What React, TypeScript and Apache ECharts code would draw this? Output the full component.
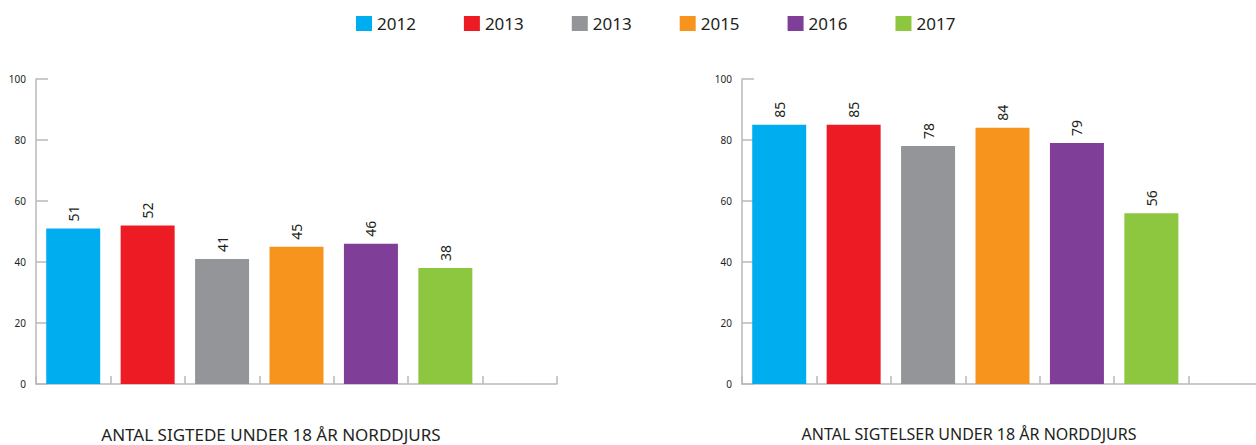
import React, { useEffect, useRef } from "react";
import * as echarts from "echarts";

const seriesKeys = ["s2012", "s2013a", "s2013b", "s2015", "s2016", "s2017"];
const legendLabels = ["2012", "2013", "2013", "2015", "2016", "2017"];
const colors = ["#00AEEF", "#ED1C24", "#939598", "#F7941D", "#7F3F98", "#8DC63F"];
const categories = ["2012", "2013", "2013", "2015", "2016", "2017", ""];
const leftValues = [51, 52, 41, 45, 46, 38];
const rightValues = [85, 85, 78, 84, 79, 56];
const leftTitle = "ANTAL SIGTEDE UNDER 18 ÅR NORDDJURS";
const rightTitle = "ANTAL SIGTELSER UNDER 18 ÅR NORDDJURS";
const yTicks = { min: 0, max: 100, interval: 20 };

const FONT = "'Noto Sans', sans-serif";
const AXIS_COLOR = "#b8b9bb";

export default function App() {
  const ref = useRef<HTMLDivElement>(null);
  useEffect(() => {
    if (!ref.current) return;
    const chart = echarts.init(ref.current, undefined, { renderer: "svg" });
    const labelMap: Record<string, string> = {};
    seriesKeys.forEach((k, i) => (labelMap[k] = legendLabels[i]));

    const makeX = (gridIndex: number) => ({
      type: "category" as const,
      gridIndex,
      data: categories,
      boundaryGap: true,
      axisLine: { lineStyle: { color: AXIS_COLOR, width: 1.5 } },
      axisTick: { show: true, inside: true, length: 8, lineStyle: { color: AXIS_COLOR, width: 1.5 } },
      axisLabel: { show: false },
      splitLine: { show: false },
    });
    const makeY = (gridIndex: number) => ({
      type: "value" as const,
      gridIndex,
      min: yTicks.min,
      max: yTicks.max,
      interval: yTicks.interval,
      axisLine: { show: true, lineStyle: { color: AXIS_COLOR, width: 1.5 } },
      axisTick: { show: true, inside: true, length: 12, lineStyle: { color: AXIS_COLOR, width: 1.5 } },
      axisLabel: { fontSize: 10, color: "#231f20", margin: 10, fontFamily: FONT },
      splitLine: { show: false },
    });

    const series: any[] = [];
    [leftValues, rightValues].forEach((vals, g) => {
      vals.forEach((v, i) => {
        const data = categories.map((_, j) => (j === i ? v : "-"));
        series.push({
          name: seriesKeys[i],
          type: "bar",
          xAxisIndex: g,
          yAxisIndex: g,
          data,
          barWidth: 54,
          barGap: "-100%",
          itemStyle: { color: colors[i] },
          label: {
            show: true,
            position: "top",
            rotate: 90,
            distance: 7,
            align: "left",
            verticalAlign: "middle",
            fontSize: 14,
            color: "#231f20",
            fontFamily: FONT,
          },
        });
      });
    });

    chart.setOption({
      animation: false,
      legend: {
        data: seriesKeys,
        left: 356,
        top: 15,
        padding: 0,
        icon: "rect",
        itemWidth: 16,
        itemHeight: 15,
        itemGap: 48,
        formatter: (name: string) => labelMap[name] ?? name,
        textStyle: { fontSize: 17, color: "#231f20", fontFamily: FONT },
      },
      grid: [
        { left: 36, top: 79, width: 521, height: 305 },
        { left: 742, top: 79, width: 521, height: 305 },
      ],
      xAxis: [makeX(0), makeX(1)],
      yAxis: [makeY(0), makeY(1)],
      series,
      graphic: [
        {
          type: "text",
          x: 271,
          y: 434,
          style: { text: leftTitle, align: "center", verticalAlign: "middle", font: `17px ${FONT}`, fill: "#231f20" },
        },
        {
          type: "text",
          x: 969,
          y: 434,
          style: { text: rightTitle, align: "center", verticalAlign: "middle", font: `16px ${FONT}`, fill: "#231f20" },
        },
      ],
    });
    return () => chart.dispose();
  }, []);
  return (
    <div style={{ position: "absolute", left: 0, top: 0, width: 1256, height: 445, overflow: "hidden" }}>
      <div ref={ref} style={{ width: 1270, height: 445 }} />
    </div>
  );
}
